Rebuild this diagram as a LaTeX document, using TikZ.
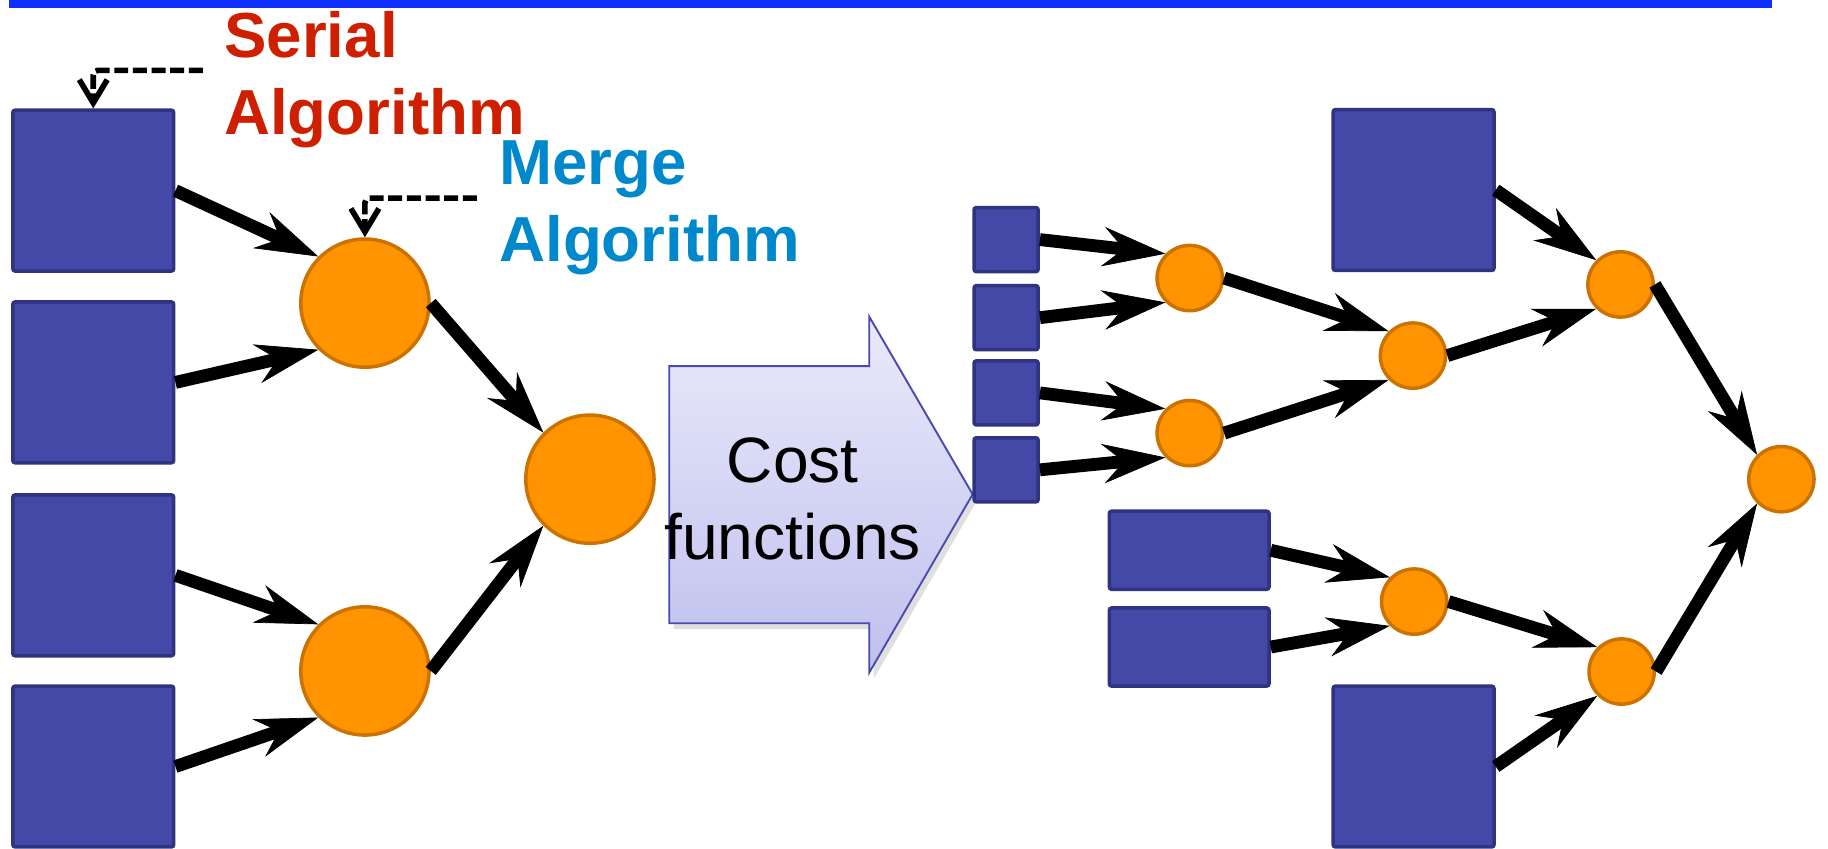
\documentclass[tikz,border=0pt]{standalone}
\usepackage{fontspec}
\setmainfont{Liberation Sans}
\usetikzlibrary{arrows.meta,shadows}

\definecolor{barblue}{RGB}{16,48,255}
\definecolor{boxfill}{RGB}{68,73,168}
\definecolor{boxline}{RGB}{47,51,128}
\definecolor{mergefill}{RGB}{255,148,0}
\definecolor{mergeline}{RGB}{204,114,0}
\definecolor{serialred}{RGB}{206,32,0}
\definecolor{mergeblue}{RGB}{0,136,204}
\definecolor{costtop}{RGB}{234,234,250}
\definecolor{costbot}{RGB}{190,192,238}
\definecolor{costline}{RGB}{72,74,176}

\begin{document}
\begin{tikzpicture}[x=0.5pt,y=-0.5pt,
  task/.style={draw=boxline, fill=boxfill, line width=1.5pt, rounded corners=1pt, inner sep=0pt},
  bigtask/.style={task, minimum size=69pt},
  smalltask/.style={task, minimum size=27.5pt},
  widetask/.style={task, minimum width=68.5pt, minimum height=33.5pt},
  mergenode/.style={circle, draw=mergeline, fill=mergefill, line width=1.5pt, inner sep=0pt},
  bigmerge/.style={mergenode, minimum size=55pt},
  smallmerge/.style={mergenode, minimum size=28pt},
  flowarrow/.style={line width=5.5pt, -{Stealth[length=27pt,width=17pt,inset=9pt,line width=0.3pt]}},
  noteline/.style={line width=2.4pt, dash pattern=on 6pt off 2pt, rounded corners=2pt,
                   -{Straight Barb[length=10pt,width=12pt]}},
  tagtext/.style={font=\bfseries\fontsize{27.3pt}{33pt}\selectfont, align=left, inner sep=0pt, anchor=base west},
]
\useasboundingbox (0,0) rectangle (1568,728);

% title rule
\fill[barblue] (8,0) rectangle (1520,7);

% ---- left: serial tasks merged pairwise ----
\node[bigtask] (s1) at (80,163.5) {};
\node[bigtask] (s2) at (80,328) {};
\node[bigtask] (s3) at (80,493.5) {};
\node[bigtask] (s4) at (80,657.5) {};

\node[bigmerge] (m1) at (313,260) {};
\node[bigmerge] (m2) at (313,575.5) {};
\node[bigmerge] (m3) at (506,411) {};

\draw[flowarrow] (s1.east) -- (m1.north west);
\draw[flowarrow] (s2.east) -- (m1.south west);
\draw[flowarrow] (s3.east) -- (m2.north west);
\draw[flowarrow] (s4.east) -- (m2.south west);
\draw[flowarrow] (m1.east) -- (m3.north west);
\draw[flowarrow] (m2.east) -- (m3.south west);

% ---- annotations (anchored on the baseline of the last line) ----
\node[tagtext, text=serialred] (serialtag) at (192,115) {Serial\\Algorithm};
\node[tagtext, text=mergeblue] (mergetag) at (428,224.5) {Merge\\Algorithm};
\coordinate (serialtail) at (174,60.3);
\coordinate (mergetail) at (409,170);
\draw[noteline] (serialtail) -| (s1.north);
\draw[noteline] (mergetail) -| (m1.north);

% ---- cost functions arrow ----
\path[draw=costline, line width=0.8pt, top color=costtop, bottom color=costbot,
      drop shadow={opacity=0.25, shadow xshift=2pt, shadow yshift=-2.5pt}]
  (574,314) -- (745.6,314) -- (745.6,271.6) -- (834.3,424) -- (745.6,577)
  -- (745.6,534.6) -- (574,534.6) -- cycle;
\node[font=\fontsize{27.5pt}{33pt}\selectfont, align=center, inner sep=0pt, anchor=base]
  (costtext) at (680,480) {Cost\\functions};

% ---- right: balanced schedule ----
\node[smalltask] (t1) at (863,205.5) {};
\node[smalltask] (t2) at (863,272.5) {};
\node[smalltask] (t3) at (863,337) {};
\node[smalltask] (t4) at (863,403) {};
\node[widetask] (w1) at (1020,472) {};
\node[widetask] (w2) at (1020,555) {};
\node[bigtask] (b1) at (1212.5,163) {};
\node[bigtask] (b2) at (1212.5,657.5) {};

\node[smallmerge] (ra) at (1020.5,238.5) {};
\node[smallmerge] (rb) at (1020.5,371.5) {};
\node[smallmerge] (rc) at (1212,305) {};
\node[smallmerge] (rd) at (1390,244) {};
\node[smallmerge] (re) at (1528,411) {};
\node[smallmerge] (rf) at (1213,516) {};
\node[smallmerge] (rg) at (1391,576) {};

\draw[flowarrow] (t1.east) -- (ra.north west);
\draw[flowarrow] (t2.east) -- (ra.south west);
\draw[flowarrow] (t3.east) -- (rb.north west);
\draw[flowarrow] (t4.east) -- (rb.south west);
\draw[flowarrow] (ra.east) -- (rc.north west);
\draw[flowarrow] (rb.east) -- (rc.south west);
\draw[flowarrow] (b1.east) -- (rd.north west);
\draw[flowarrow] (rc.east) -- (rd.south west);
\draw[flowarrow] (w1.east) -- (rf.north west);
\draw[flowarrow] (w2.east) -- (rf.south west);
\draw[flowarrow] (rf.east) -- (rg.north west);
\draw[flowarrow] (b2.east) -- (rg.south west);
\draw[flowarrow] (rd.east) -- (re.north west);
\draw[flowarrow] (rg.east) -- (re.south west);
\end{tikzpicture}
\end{document}
